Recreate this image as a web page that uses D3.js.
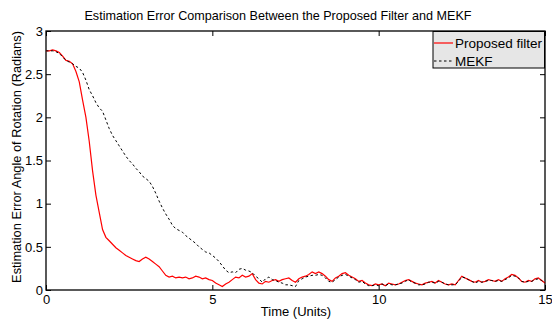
<!DOCTYPE html>
<html><head><meta charset="utf-8">
<script src="https://cdn.jsdelivr.net/npm/d3@7"></script>
<style>body{margin:0;background:#fff}svg{display:block;font-family:"Liberation Sans",Arial,sans-serif}</style>
</head><body><svg id="c" width="552" height="320"></svg>
<script>
const dt = 0.1;
const proposed = [2.77,2.77,2.78,2.77,2.75,2.71,2.66,2.65,2.62,2.53,
2.41,2.20,2.00,1.72,1.38,1.10,0.90,0.70,0.61,0.57,
0.53,0.49,0.46,0.43,0.40,0.38,0.36,0.34,0.33,0.36,
0.38,0.36,0.33,0.30,0.27,0.22,0.17,0.15,0.16,0.14,
0.15,0.14,0.15,0.13,0.14,0.16,0.15,0.13,0.14,0.12,
0.11,0.08,0.06,0.04,0.07,0.09,0.12,0.15,0.14,0.17,
0.15,0.16,0.19,0.12,0.08,0.07,0.10,0.09,0.11,0.12,
0.10,0.12,0.13,0.14,0.11,0.09,0.13,0.15,0.16,0.18,
0.21,0.19,0.21,0.19,0.16,0.12,0.10,0.14,0.16,0.19,
0.20,0.17,0.15,0.13,0.10,0.11,0.08,0.06,0.05,0.07,
0.06,0.07,0.05,0.08,0.07,0.06,0.07,0.09,0.11,0.12,
0.10,0.08,0.07,0.06,0.08,0.09,0.10,0.08,0.11,0.09,
0.07,0.06,0.07,0.06,0.11,0.16,0.14,0.12,0.10,0.09,
0.11,0.09,0.10,0.12,0.11,0.10,0.12,0.10,0.13,0.15,
0.18,0.17,0.14,0.10,0.09,0.11,0.10,0.13,0.14,0.11,
0.08];
const mekf = [2.77,2.77,2.77,2.76,2.74,2.70,2.66,2.64,2.62,2.59,
2.57,2.52,2.43,2.32,2.25,2.17,2.11,2.07,1.97,1.87,
1.79,1.73,1.67,1.61,1.55,1.50,1.46,1.41,1.37,1.32,
1.29,1.26,1.20,1.12,1.03,0.95,0.88,0.82,0.75,0.71,
0.69,0.67,0.63,0.60,0.57,0.54,0.50,0.47,0.44,0.43,
0.40,0.37,0.33,0.28,0.23,0.20,0.21,0.20,0.24,0.25,
0.23,0.22,0.20,0.16,0.13,0.09,0.13,0.15,0.12,0.11,
0.09,0.08,0.06,0.06,0.05,0.04,0.11,0.13,0.15,0.16,
0.17,0.17,0.18,0.17,0.14,0.10,0.09,0.12,0.15,0.17,
0.18,0.16,0.14,0.12,0.09,0.10,0.07,0.05,0.05,0.06,
0.05,0.07,0.05,0.07,0.06,0.06,0.07,0.08,0.10,0.12,
0.09,0.08,0.06,0.06,0.07,0.09,0.09,0.08,0.10,0.09,
0.07,0.06,0.06,0.06,0.10,0.15,0.14,0.12,0.10,0.08,
0.10,0.09,0.10,0.11,0.11,0.10,0.11,0.10,0.12,0.14,
0.17,0.16,0.14,0.10,0.09,0.10,0.10,0.12,0.13,0.11,
0.08];
const xTicks = [0,5,10,15];
const yTicks = [0,0.5,1,1.5,2,2.5,3];
const yTickLabels = ["0","0.5","1","1.5","2","2.5","3"];
const seriesNames = ["Proposed filter","MEKF"];
const title = "Estimation Error Comparison Between the Proposed Filter and MEKF";
const xLabel = "Time (Units)";
const yLabel = "Estimation Error Angle of Rotation (Radians)";

const svg = d3.select("#c");
const L=46, R=545, T=31, B=290;
const x = d3.scaleLinear().domain([0,15]).range([L,R]);
const y = d3.scaleLinear().domain([0,3]).range([B,T]);

svg.append("rect").attr("x",L).attr("y",T).attr("width",R-L).attr("height",B-T)
  .attr("fill","none").attr("stroke","#000").attr("stroke-width",1.3);

const gB = svg.append("g").attr("transform",`translate(0,${B})`)
  .call(d3.axisBottom(x).tickValues(xTicks).tickSize(-5).tickPadding(5).tickFormat(d3.format("d")));
const gT = svg.append("g").attr("transform",`translate(0,${T})`)
  .call(d3.axisTop(x).tickValues(xTicks).tickSize(-5).tickFormat(""));
const gL = svg.append("g").attr("transform",`translate(${L},0)`)
  .call(d3.axisLeft(y).tickValues(yTicks).tickSize(-5).tickPadding(3).tickFormat((d,i)=>yTickLabels[i]));
const gR = svg.append("g").attr("transform",`translate(${R},0)`)
  .call(d3.axisRight(y).tickValues(yTicks).tickSize(-5).tickFormat(""));
[gB,gT,gL,gR].forEach(g=>{
  g.select(".domain").remove();
  g.selectAll("line").attr("stroke","#000");
  g.selectAll("text").attr("font-size","13px").attr("fill","#000").attr("font-family","Liberation Sans, Arial, sans-serif");
});

const line = d3.line().x((d,i)=>x(i*dt)).y(d=>y(d));
svg.append("path").datum(proposed).attr("d",line).attr("fill","none")
  .attr("stroke","#ff0000").attr("stroke-width",1.2);
svg.append("path").datum(mekf).attr("d",line).attr("fill","none")
  .attr("stroke","#000").attr("stroke-width",1).attr("stroke-dasharray","2.5,2.5");

svg.append("text").attr("x",278).attr("y",20).attr("text-anchor","middle")
  .attr("font-size","12.6px").text(title);
svg.append("text").attr("x",296).attr("y",316).attr("text-anchor","middle")
  .attr("font-size","13px").text(xLabel);
svg.append("text").attr("transform","translate(21,157) rotate(-90)").attr("text-anchor","middle")
  .attr("font-size","12.8px").text(yLabel);

const lg = svg.append("g");
lg.append("rect").attr("x",433).attr("y",31.5).attr("width",111.5).attr("height",36.5)
  .attr("fill","#e6e6e6").attr("stroke","#000").attr("stroke-width",1);
const ly = [43,61];
lg.append("line").attr("x1",434).attr("x2",453).attr("y1",ly[0]).attr("y2",ly[0]).attr("stroke","#ff0000").attr("stroke-width",1.2);
lg.append("line").attr("x1",434).attr("x2",453).attr("y1",ly[1]).attr("y2",ly[1]).attr("stroke","#000").attr("stroke-width",1).attr("stroke-dasharray","2.5,2.5");
seriesNames.forEach((n,i)=>{
  lg.append("text").attr("x",455).attr("y",ly[i]+5).attr("font-size","13.5px").text(n);
});
</script></body></html>
